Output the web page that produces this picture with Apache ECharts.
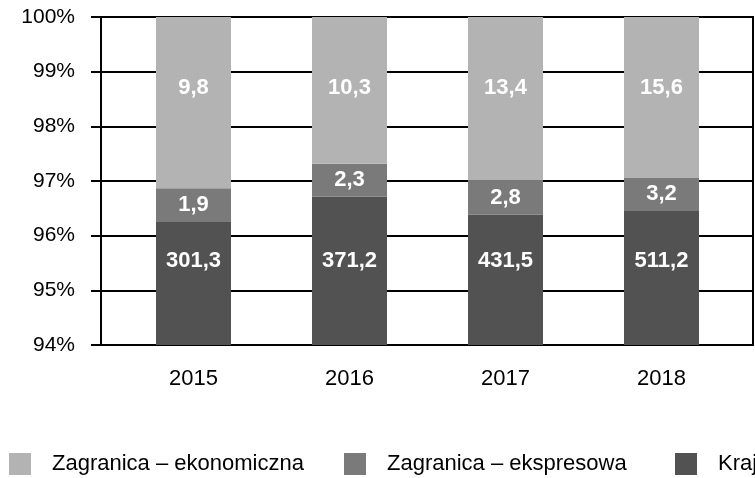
<!DOCTYPE html>
<html>
<head>
<meta charset="utf-8">
<script src="https://cdn.jsdelivr.net/npm/echarts@6/dist/echarts.min.js"></script>
<style>
html,body{margin:0;padding:0;background:#fff;}
#chart{width:755px;height:478px;}
</style>
</head>
<body>
<div id="chart"></div>
<script>
// dane z wykresu
var years = ['2015', '2016', '2017', '2018'];
var kraj = [301.3, 371.2, 431.5, 511.2];
var ekspres = [1.9, 2.3, 2.8, 3.2];
var ekonom = [9.8, 10.3, 13.4, 15.6];
var yTicks = [94, 95, 96, 97, 98, 99, 100];

var names = ['Zagranica \u2013 ekonomiczna', 'Zagranica \u2013 ekspresowa', 'Krajowa'];
var FONT = 'Liberation Sans, Arial, sans-serif';

// udzial procentowy w sumie danego roku
function share(arr) {
    return arr.map(function (v, i) {
        var total = kraj[i] + ekspres[i] + ekonom[i];
        return v / total * 100;
    });
}
function fmt(arr) {
    return function (p) {
        return String(arr[p.dataIndex]).replace('.', ',');
    };
}
function lbl(arr, extra) {
    var o = {
        show: true,
        color: '#fff',
        fontWeight: 'bold',
        fontSize: 22,
        fontFamily: FONT,
        formatter: fmt(arr)
    };
    for (var k in extra) o[k] = extra[k];
    return o;
}
// osobna legenda dla kazdej serii (pozycje jak w oryginale)
var legendLeft = [9, 344, 675];
function legendItem(i) {
    return {
        data: [names[i]],
        left: legendLeft[i],
        top: 453,
        width: 600,
        padding: 0,
        icon: 'rect',
        itemWidth: 22,
        itemHeight: 22,
        textStyle: {fontSize: 22, color: '#000', fontFamily: FONT, padding: [0, 0, 0, 16]}
    };
}

var myChart = echarts.init(document.getElementById('chart'));
myChart.setOption({
    animation: false,
    textStyle: {fontFamily: FONT},
    grid: [
        {left: 101, right: 2, top: 17, bottom: 133, show: true, borderColor: '#000', borderWidth: 2},
        {left: 115.5, right: 15.5, top: 17, bottom: 133}
    ],
    legend: [legendItem(0), legendItem(1), legendItem(2)],
    xAxis: [
        {
            type: 'category', gridIndex: 0, data: years,
            axisLine: {lineStyle: {color: '#000', width: 2}},
            axisTick: {show: false}, axisLabel: {show: false}
        },
        {
            type: 'category', gridIndex: 1, data: years,
            axisLine: {show: false}, axisTick: {show: false},
            axisLabel: {color: '#000', fontSize: 22, margin: 23, fontFamily: FONT}
        }
    ],
    yAxis: [
        {
            type: 'value', gridIndex: 0, min: 94, max: 100, interval: 1,
            axisLine: {show: true, lineStyle: {color: '#000', width: 2}},
            axisTick: {show: true, length: 10, lineStyle: {color: '#000', width: 2}},
            splitLine: {lineStyle: {color: '#000', width: 2}},
            axisLabel: {
                color: '#000', fontSize: 21, margin: 26, fontFamily: FONT,
                formatter: function (v) { return yTicks.indexOf(v) >= 0 ? v + '%' : ''; }
            }
        },
        {
            type: 'value', gridIndex: 1, min: 94, max: 100, show: false
        }
    ],
    series: [
        {
            name: names[2], type: 'bar', stack: 'a', xAxisIndex: 1, yAxisIndex: 1,
            barWidth: 75, data: share(kraj), itemStyle: {color: '#525252'},
            label: lbl(kraj, {position: 'insideBottom', distance: 73})
        },
        {
            name: names[1], type: 'bar', stack: 'a', xAxisIndex: 1, yAxisIndex: 1,
            barWidth: 75, data: share(ekspres), itemStyle: {color: '#7a7a7a'},
            label: lbl(ekspres, {position: 'inside'})
        },
        {
            name: names[0], type: 'bar', stack: 'a', xAxisIndex: 1, yAxisIndex: 1,
            barWidth: 75, data: share(ekonom), itemStyle: {color: '#b3b3b3'},
            label: lbl(ekonom, {position: ['50%', 71], align: 'center', verticalAlign: 'middle'})
        }
    ]
});
</script>
</body>
</html>
